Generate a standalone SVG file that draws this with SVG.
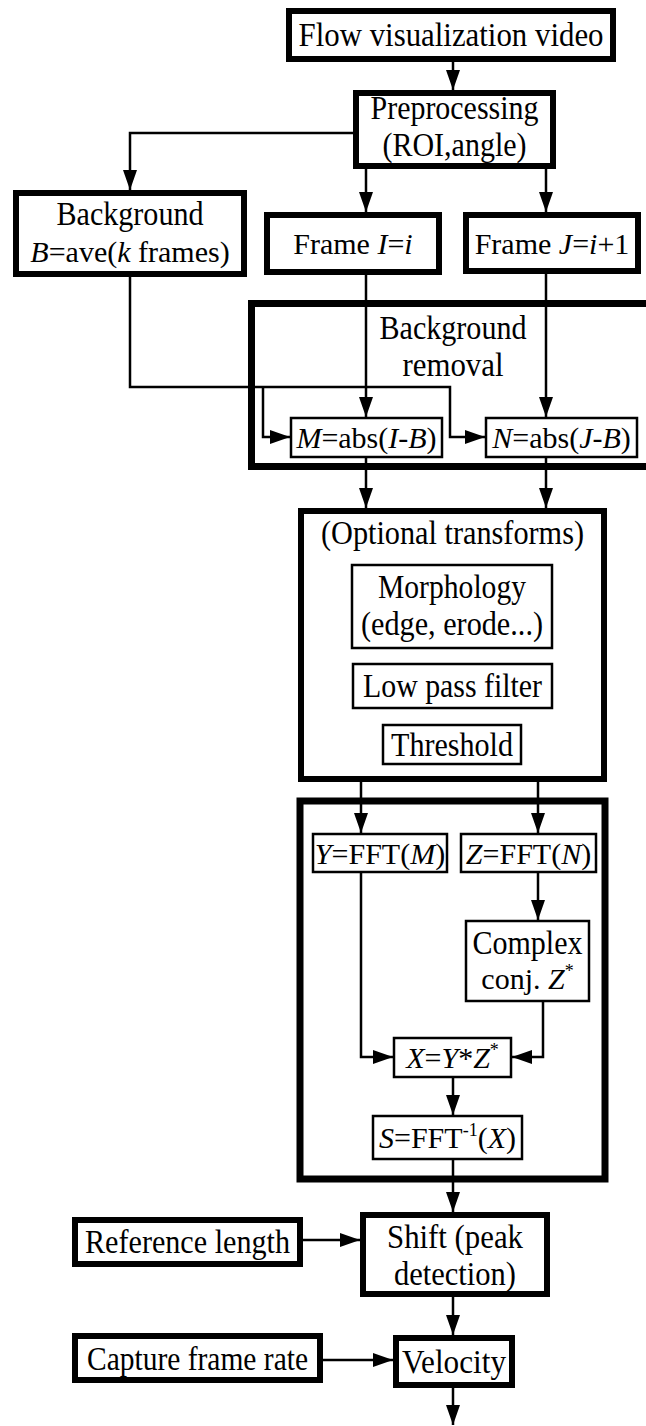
<svg xmlns="http://www.w3.org/2000/svg" width="646" height="1426" viewBox="0 0 646 1426">
<style>
  .thick{fill:#fff;stroke:#000;stroke-width:6}
  .thin{fill:#fff;stroke:#000;stroke-width:2.5}
  .grp{fill:none;stroke:#000;stroke-width:7}
  text{font-family:"Liberation Serif","Times New Roman",serif;font-size:33px;fill:#000;text-anchor:middle}
  .m{font-size:30px}
  .i{font-style:italic}
  .sup{font-size:18px}
  .c{fill:none;stroke:#000;stroke-width:2.5}
</style>
<defs>
  <marker id="ah" viewBox="0 0 20 14" refX="20" refY="7" markerWidth="20" markerHeight="14" markerUnits="userSpaceOnUse" orient="auto">
    <path d="M0,0 L20,7 L0,14 z" fill="#000"/>
  </marker>
</defs>
<rect width="646" height="1426" fill="#fff"/>

<g id="bg-removal-group">
  <rect class="grp" x="251.5" y="303.5" width="420" height="163"/>
  <text x="453" y="339" textLength="147" lengthAdjust="spacingAndGlyphs">Background</text>
  <text x="453" y="376" textLength="101" lengthAdjust="spacingAndGlyphs">removal</text>
</g>
<g id="optional-group">
  <rect class="thick" x="301" y="511" width="303" height="268"/>
  <text x="452.5" y="544" textLength="263" lengthAdjust="spacingAndGlyphs">(Optional transforms)</text>
</g>
<g id="fft-group">
  <rect class="thick" x="300" y="801" width="305" height="378" style="stroke-width:7"/>
</g>

<g id="connectors">
  <path class="c" d="M453,62 V90" marker-end="url(#ah)"/>
  <path class="c" d="M353,133 H130 V190" marker-end="url(#ah)"/>
  <path class="c" d="M366,169 V212" marker-end="url(#ah)"/>
  <path class="c" d="M546,169 V212" marker-end="url(#ah)"/>
  <path class="c" d="M366,275 V417" marker-end="url(#ah)"/>
  <path class="c" d="M546,274 V417" marker-end="url(#ah)"/>
  <path class="c" d="M130,277 V387 H450 V437 H485" marker-end="url(#ah)"/>
  <path class="c" d="M263,387 V437 H290" marker-end="url(#ah)"/>
  <path class="c" d="M366,458 V508" marker-end="url(#ah)"/>
  <path class="c" d="M546,458 V508" marker-end="url(#ah)"/>
  <path class="c" d="M361,782 V833" marker-end="url(#ah)"/>
  <path class="c" d="M538,782 V833" marker-end="url(#ah)"/>
  <path class="c" d="M538,873 V920" marker-end="url(#ah)"/>
  <path class="c" d="M361,873 V1057 H393" marker-end="url(#ah)"/>
  <path class="c" d="M543,1002 V1057 H512" marker-end="url(#ah)"/>
  <path class="c" d="M453,1078 V1115" marker-end="url(#ah)"/>
  <path class="c" d="M453,1160 V1212" marker-end="url(#ah)"/>
  <path class="c" d="M303,1240 H360" marker-end="url(#ah)"/>
  <path class="c" d="M453,1297 V1335" marker-end="url(#ah)"/>
  <path class="c" d="M323,1360 H393" marker-end="url(#ah)"/>
  <path class="c" d="M453,1388 V1425" marker-end="url(#ah)"/>
</g>

<g id="flow-video">
  <rect class="thick" x="289" y="11" width="324" height="48"/>
  <text x="451" y="46" textLength="305" lengthAdjust="spacingAndGlyphs">Flow visualization video</text>
</g>
<g id="preprocessing">
  <rect class="thick" x="356" y="93" width="197" height="73"/>
  <text x="454.5" y="119" textLength="168" lengthAdjust="spacingAndGlyphs">Preprocessing</text>
  <text x="454.5" y="156" textLength="144" lengthAdjust="spacingAndGlyphs">(ROI,angle)</text>
</g>
<g id="background">
  <rect class="thick" x="16" y="193" width="228" height="81"/>
  <text x="130" y="225" textLength="147" lengthAdjust="spacingAndGlyphs">Background</text>
  <text class="m" x="130" y="262"><tspan class="i">B</tspan>=ave(<tspan class="i">k</tspan> frames)</text>
</g>
<g id="frame-i">
  <rect class="thick" x="267" y="215" width="172" height="57"/>
  <text class="m" x="353" y="254">Frame <tspan class="i">I</tspan>=<tspan class="i">i</tspan></text>
</g>
<g id="frame-j">
  <rect class="thick" x="466" y="215" width="172" height="56"/>
  <text class="m" x="552" y="254">Frame <tspan class="i">J</tspan>=<tspan class="i">i</tspan>+1</text>
</g>
<g id="m-abs">
  <rect class="thin" x="291" y="418" width="151" height="39"/>
  <text class="m" x="366.5" y="448"><tspan class="i">M</tspan>=abs(<tspan class="i">I</tspan>-<tspan class="i">B</tspan>)</text>
</g>
<g id="n-abs">
  <rect class="thin" x="486" y="418" width="151" height="39"/>
  <text class="m" x="561.5" y="448"><tspan class="i">N</tspan>=abs(<tspan class="i">J</tspan>-<tspan class="i">B</tspan>)</text>
</g>
<g id="morphology">
  <rect class="thin" x="352" y="565" width="200" height="83"/>
  <text x="452" y="598" textLength="148" lengthAdjust="spacingAndGlyphs">Morphology</text>
  <text x="452" y="635" textLength="182" lengthAdjust="spacingAndGlyphs">(edge, erode...)</text>
</g>
<g id="low-pass">
  <rect class="thin" x="353" y="664" width="199" height="44"/>
  <text x="452.5" y="697" textLength="179" lengthAdjust="spacingAndGlyphs">Low pass filter</text>
</g>
<g id="threshold">
  <rect class="thin" x="383" y="725" width="138" height="39"/>
  <text x="452" y="756" textLength="122" lengthAdjust="spacingAndGlyphs">Threshold</text>
</g>
<g id="y-fft">
  <rect class="thin" x="313" y="834" width="134" height="38"/>
  <text class="m" x="380" y="864"><tspan class="i">Y</tspan>=FFT(<tspan class="i">M</tspan>)</text>
</g>
<g id="z-fft">
  <rect class="thin" x="461" y="834" width="135" height="38"/>
  <text class="m" x="528.5" y="864"><tspan class="i">Z</tspan>=FFT(<tspan class="i">N</tspan>)</text>
</g>
<g id="complex-conj">
  <rect class="thin" x="466" y="921" width="123" height="80"/>
  <text x="527.5" y="954" textLength="110" lengthAdjust="spacingAndGlyphs">Complex</text>
  <text class="m" x="527.5" y="989">conj. <tspan class="i">Z</tspan><tspan class="sup" dy="-12">*</tspan></text>
</g>
<g id="x-product">
  <rect class="thin" x="394" y="1038" width="117" height="39"/>
  <text class="m" x="452.5" y="1068"><tspan class="i">X</tspan>=<tspan class="i">Y</tspan>*<tspan class="i">Z</tspan><tspan class="sup" dy="-12">*</tspan></text>
</g>
<g id="s-ifft">
  <rect class="thin" x="373" y="1116" width="149" height="43"/>
  <text class="m" x="447.5" y="1148"><tspan class="i">S</tspan>=FFT<tspan class="sup" dy="-12">-1</tspan><tspan dy="12">(</tspan><tspan class="i">X</tspan>)</text>
</g>
<g id="reference-length">
  <rect class="thick" x="75" y="1220" width="225" height="44"/>
  <text x="187.5" y="1253" textLength="205" lengthAdjust="spacingAndGlyphs">Reference length</text>
</g>
<g id="shift">
  <rect class="thick" x="363" y="1215" width="184" height="79"/>
  <text x="455" y="1248" textLength="136" lengthAdjust="spacingAndGlyphs">Shift (peak</text>
  <text x="455" y="1285" textLength="122" lengthAdjust="spacingAndGlyphs">detection)</text>
</g>
<g id="capture-rate">
  <rect class="thick" x="75" y="1336" width="245" height="44"/>
  <text x="197.5" y="1370" textLength="221" lengthAdjust="spacingAndGlyphs">Capture frame rate</text>
</g>
<g id="velocity">
  <rect class="thick" x="396" y="1338" width="116" height="47"/>
  <text x="454" y="1373" textLength="104" lengthAdjust="spacingAndGlyphs">Velocity</text>
</g>
</svg>
